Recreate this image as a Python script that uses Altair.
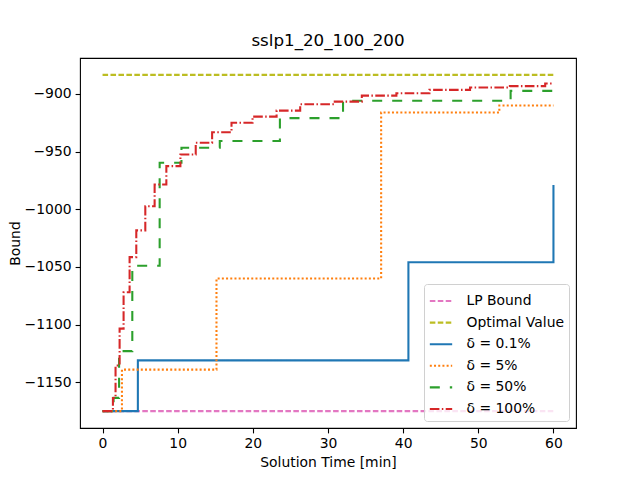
import altair as alt
import pandas as pd

series_names = ["LP Bound", "Optimal Value", "δ = 0.1%", "δ = 5%", "δ = 50%", "δ = 100%"]
colors = ["#e377c2", "#bcbd22", "#1f77b4", "#ff7f0e", "#2ca02c", "#d62728"]
dashes = [[5.55, 2.4], [5.55, 2.4], [1, 0], [2, 2.2], [10, 10], [9.6, 2.4, 1.5, 2.4]]

lp_t = [0, 60]
lp_v = [-1175, -1175]

opt_t = [0, 60]
opt_v = [-883.5, -883.5]

d01_t = [0, 4.7, 40.7, 60]
d01_v = [-1175, -1131, -1046, -979]

d5_t = [0, 2.58, 15.16, 37.07, 52.8, 60]
d5_v = [-1175, -1139, -1060, -916.2, -910.1, -910.1]

d50_t = [0, 1.47, 2.2, 3.96, 7.6, 10.5, 15.6, 23.6, 32.0, 54.3, 59.7, 60]
d50_v = [-1175, -1163.5, -1123, -1049, -959.7, -946.7, -940.9, -921, -906, -897.4, -894.5, -894.5]

d100_t = [0, 1.38, 1.73, 2.27, 2.8, 3.6, 4.49, 5.69, 6.93, 8.49, 10.36, 12.4, 14.58,
          17.16, 19.96, 23.16, 26.3, 30.9, 34.5, 39.1, 43.5, 48.9, 54.2, 58.9, 60]
d100_v = [-1175, -1163.6, -1135.5, -1103.5, -1072, -1041.5, -1018.3, -997.4, -978.6,
          -962.6, -952.5, -942.3, -933.3, -925, -919.7, -914.5, -909, -906.7, -901.5,
          -899.4, -896.5, -894.5, -893.3, -891, -891]

all_t = [lp_t, opt_t, d01_t, d5_t, d50_t, d100_t]
all_v = [lp_v, opt_v, d01_v, d5_v, d50_v, d100_v]

rows = []
for k, (name, ts, vs) in enumerate(zip(series_names, all_t, all_v)):
    for i, (t, v) in enumerate(zip(ts, vs)):
        rows.append({"series": name, "order": k, "idx": i, "t": t, "v": v})
df = pd.DataFrame(rows)

font = "DejaVu Sans"

chart = alt.Chart(df).mark_line(interpolate="step-after", strokeWidth=2.08, clip=True).encode(
    x=alt.X("t:Q", title="Solution Time [min]",
            scale=alt.Scale(domain=[-3, 63], nice=False, zero=False),
            axis=alt.Axis(values=[0, 10, 20, 30, 40, 50, 60], format="d")),
    y=alt.Y("v:Q", title="Bound",
            scale=alt.Scale(domain=[-1189.6, -868.9], nice=False, zero=False),
            axis=alt.Axis(values=[-1150, -1100, -1050, -1000, -950, -900], format="d")),
    color=alt.Color("series:N", scale=alt.Scale(domain=series_names, range=colors),
                    legend=alt.Legend(title=None)),
    strokeDash=alt.StrokeDash("series:N", scale=alt.Scale(domain=series_names, range=dashes),
                              legend=alt.Legend(title=None)),
    detail="series:N",
    order="idx:Q",
).properties(
    width=496,
    height=370,
    title=alt.Title("sslp1_20_100_200", fontSize=16.7, fontWeight="normal", font=font,
                    color="black", offset=8),
    autosize=alt.AutoSizeParams(type="none"),
    padding={"left": 72, "top": 50, "right": 56, "bottom": 44},
).configure_view(
    stroke="black", strokeWidth=1.1
).configure_axis(
    grid=False, domain=False,
    tickColor="black", tickSize=4.9, tickWidth=1.1,
    labelFont=font, labelFontSize=13.9, labelColor="black", labelPadding=4,
    titleFont=font, titleFontSize=13.9, titleColor="black", titleFontWeight="normal",
).configure_axisX(
    titlePadding=5
).configure_axisY(
    titlePadding=2
).configure_legend(
    orient="bottom-right", offset=7,
    labelFont=font, labelFontSize=13.9, labelColor="black",
    symbolType="stroke", symbolSize=500, symbolStrokeWidth=2.08,
    rowPadding=1.6, padding=4.5, labelOffset=13,
    strokeColor="#d0d0d0", fillColor="rgba(255,255,255,0.8)", cornerRadius=3,
)

chart.save("out.html", embed_options={"renderer": "svg", "actions": False})
